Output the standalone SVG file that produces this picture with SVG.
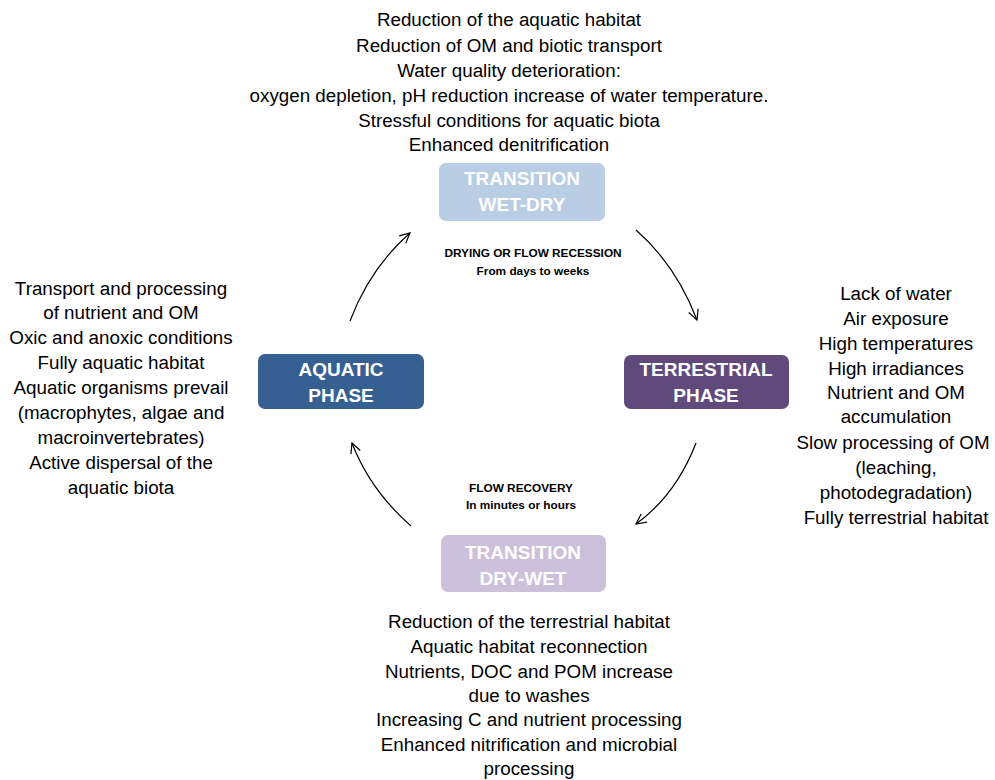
<svg xmlns="http://www.w3.org/2000/svg" width="995" height="780" viewBox="0 0 995 780">
<style>
.t{font-family:"Liberation Sans",Arial,sans-serif;font-size:18.8px;fill:#000;text-anchor:middle}
.b{font-family:"Liberation Sans",Arial,sans-serif;font-size:19px;font-weight:bold;fill:#fff;text-anchor:middle}
.s{font-family:"Liberation Sans",Arial,sans-serif;font-size:11.8px;font-weight:bold;fill:#000;text-anchor:middle}
.c{fill:none;stroke:#000;stroke-width:1.2;marker-end:url(#ah)}
</style>
<defs>
<marker id="ah" markerWidth="14" markerHeight="14" refX="11" refY="6" orient="auto" markerUnits="userSpaceOnUse">
<path d="M1,1 L11,6 L1,11" fill="none" stroke="#000" stroke-width="1.2"/>
</marker>
</defs>
<rect width="995" height="780" fill="#fff"/>
<g id="top-text">
<text class="t" x="509" y="26">Reduction of the aquatic habitat</text>
<text class="t" x="509" y="52">Reduction of OM and biotic transport</text>
<text class="t" x="509" y="77">Water quality deterioration:</text>
<text class="t" x="509" y="102">oxygen depletion, pH reduction increase of water temperature.</text>
<text class="t" x="509" y="127">Stressful conditions for aquatic biota</text>
<text class="t" x="509" y="151">Enhanced denitrification</text>
</g>
<g id="transition-wet-dry">
<rect x="439" y="163" width="166" height="58" rx="7" fill="#b9cde5"/>
<text class="b" x="522" y="185">TRANSITION</text>
<text class="b" x="522" y="211" font-size="16">WET-DRY</text>
</g>
<g id="aquatic-phase">
<rect x="258" y="354" width="166" height="55" rx="7" fill="#366092"/>
<text class="b" x="341" y="376">AQUATIC</text>
<text class="b" x="341" y="402">PHASE</text>
</g>
<g id="terrestrial-phase">
<rect x="624" y="355" width="165" height="54" rx="7" fill="#604a7b"/>
<text class="b" x="706" y="376">TERRESTRIAL</text>
<text class="b" x="706" y="402">PHASE</text>
</g>
<g id="transition-dry-wet">
<rect x="441" y="535" width="165" height="57" rx="7" fill="#ccc0da"/>
<text class="b" x="523" y="559">TRANSITION</text>
<text class="b" x="523" y="585" font-size="16">DRY-WET</text>
</g>
<g id="left-text">
<text class="t" x="121" y="295">Transport and processing</text>
<text class="t" x="121" y="319">of nutrient and OM</text>
<text class="t" x="121" y="344">Oxic and anoxic conditions</text>
<text class="t" x="121" y="369">Fully aquatic habitat</text>
<text class="t" x="121" y="394">Aquatic organisms  prevail</text>
<text class="t" x="121" y="419">(macrophytes, algae and</text>
<text class="t" x="121" y="444">macroinvertebrates)</text>
<text class="t" x="121" y="469">Active dispersal of the</text>
<text class="t" x="121" y="494">aquatic biota</text>
</g>
<g id="right-text">
<text class="t" x="896" y="300">Lack of water</text>
<text class="t" x="896" y="325">Air exposure</text>
<text class="t" x="896" y="350">High temperatures</text>
<text class="t" x="896" y="375">High irradiances</text>
<text class="t" x="896" y="399">Nutrient and OM</text>
<text class="t" x="896" y="423">accumulation</text>
<text class="t" x="893" y="449">Slow processing of OM</text>
<text class="t" x="896" y="474">(leaching,</text>
<text class="t" x="896" y="499">photodegradation)</text>
<text class="t" x="896" y="524">Fully terrestrial habitat</text>
</g>
<g id="bottom-text">
<text class="t" x="529" y="628">Reduction of the terrestrial habitat</text>
<text class="t" x="529" y="653">Aquatic habitat reconnection</text>
<text class="t" x="529" y="678">Nutrients, DOC and POM increase</text>
<text class="t" x="529" y="702">due to washes</text>
<text class="t" x="529" y="726">Increasing C and nutrient processing</text>
<text class="t" x="529" y="751">Enhanced nitrification and microbial</text>
<text class="t" x="529" y="775">processing</text>
</g>
<g id="connectors">
<path class="c" d="M350,321 Q370,268 410,233"/>
<path class="c" d="M636,230 Q676,265 697,320"/>
<path class="c" d="M696,443 Q676,495 636,524"/>
<path class="c" d="M411,526 Q370,490 352,443"/>
<text class="s" x="533" y="257">DRYING OR FLOW RECESSION</text>
<text class="s" x="533" y="275">From days to weeks</text>
<text class="s" x="521" y="492">FLOW  RECOVERY</text>
<text class="s" x="521" y="509">In minutes or hours</text>
</g>
</svg>
